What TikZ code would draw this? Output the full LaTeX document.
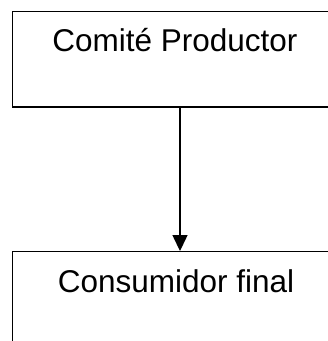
\documentclass[tikz,border=0pt]{standalone}
\usepackage{fontspec}
\setmainfont{Liberation Sans}
\usetikzlibrary{arrows.meta,positioning}

\begin{document}
\begin{tikzpicture}[x=1pt,y=1pt,
	caja/.style={draw, line width=1.3pt, rectangle,
		minimum width=335pt, minimum height=95.5pt},
	texto/.style={inner sep=0pt, anchor=base,
		font=\fontsize{31.5}{38}\selectfont},
	flecha/.style={line width=1.3pt, -{Triangle[length=16pt,width=15pt]}}]
		
		\useasboundingbox (0,0) rectangle (328,341);
		\clip (0,0) rectangle (328,341);
		
		% Comite
		\node [caja] (prod) at (180, 281.75){};
		
		\node[texto] (prodtxt) at ([xshift=-5pt, yshift=-41pt]prod.north) {Comité Productor};
		
		% Consumidor
		\node [caja] (cons) at (180, 41.55){};
		
		\node[texto] (constxt) at ([xshift=-4pt, yshift=-41.5pt]cons.north) {Consumidor final};
		
		\draw[flecha] (prod.south) -- (cons.north);
		
	\end{tikzpicture}
\end{document}
